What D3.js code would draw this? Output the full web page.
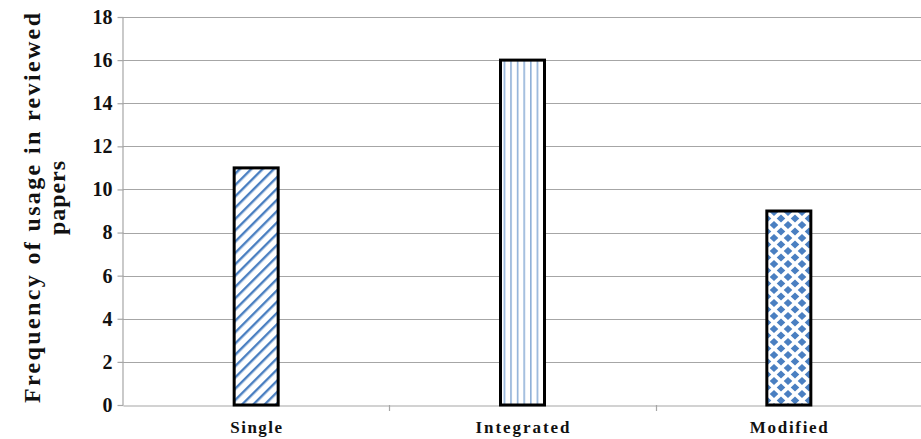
<!DOCTYPE html>
<html>
<head>
<meta charset="utf-8">
<script src="https://cdn.jsdelivr.net/npm/d3@7"></script>
<style>
  html, body { margin: 0; padding: 0; background: #fff; }
  svg { display: block; }
</style>
</head>
<body>
<svg id="chart" width="921" height="439"></svg>
<script>
// Chart data
const categories = ["Single", "Integrated", "Modified"];
const values = [11, 16, 9];
const patterns = ["diag", "vert", "diamond"];
const yTicks = [0, 2, 4, 6, 8, 10, 12, 14, 16, 18];
const yTitleLines = ["Frequency of  usage in reviewed", "papers"];

const SERIF = "'Liberation Serif', 'Times New Roman', serif";
const svg = d3.select("#chart");
const W = 921, H = 439;
const margin = { left: 123, right: -1, top: 17, bottom: 34 };

const x = d3.scaleBand().domain(categories).range([margin.left, W - margin.right]).paddingInner(0).paddingOuter(0);
const y = d3.scaleLinear().domain([0, 18]).range([H - margin.bottom, margin.top]);

const blue = "#4a7fc1";
const defs = svg.append("defs");

// diagonal hatch
const pd = defs.append("pattern").attr("id", "diag").attr("patternUnits", "userSpaceOnUse")
  .attr("width", 8).attr("height", 8).attr("patternTransform", "rotate(45)");
pd.append("rect").attr("width", 8).attr("height", 8).attr("fill", "#fff");
pd.append("rect").attr("x", 0).attr("y", 0).attr("width", 2.4).attr("height", 8).attr("fill", blue);

// vertical lines
const pv = defs.append("pattern").attr("id", "vert").attr("patternUnits", "userSpaceOnUse")
  .attr("width", 6.6).attr("height", 10).attr("x", 2);
pv.append("rect").attr("width", 6.6).attr("height", 10).attr("fill", "#fff");
pv.append("rect").attr("x", 0).attr("y", 0).attr("width", 1.6).attr("height", 10).attr("fill", "#8fb0d8");

// diamond checker: blue diamonds on offset rows
const pw = 14, ph = 13, dx = 4.3, dy = 4.0;
const dia = (cx, cy) => `M${cx},${cy - dy}L${cx + dx},${cy}L${cx},${cy + dy}L${cx - dx},${cy}Z`;
const pm = defs.append("pattern").attr("id", "diamond").attr("patternUnits", "userSpaceOnUse")
  .attr("width", pw).attr("height", ph).attr("x", 4).attr("y", 4);
pm.append("rect").attr("width", pw).attr("height", ph).attr("fill", "#fff");
pm.append("path")
  .attr("d", [dia(0, 0), dia(pw, 0), dia(0, ph), dia(pw, ph), dia(pw / 2, ph / 2)].join(""))
  .attr("fill", blue);

// gridlines
svg.append("g").selectAll("line").data(yTicks.filter(d => d > 0)).join("line")
  .attr("x1", margin.left).attr("x2", W)
  .attr("y1", d => Math.round(y(d)) + 0.5).attr("y2", d => Math.round(y(d)) + 0.5)
  .attr("stroke", "#a6a6a6").attr("stroke-width", 1.2);

// y axis
const yAxis = svg.append("g").attr("transform", `translate(${margin.left + 0.5},0)`)
  .call(d3.axisLeft(y).tickValues(yTicks).tickSize(6).tickPadding(5))
  .attr("font-family", SERIF).attr("font-weight", "bold").attr("font-size", 20);
yAxis.select(".domain").attr("stroke", "#a6a6a6").attr("stroke-width", 1.2).attr("d", `M-0.5,${y(0)}V${y(18)}`);
yAxis.selectAll(".tick line").attr("stroke", "#a6a6a6").attr("stroke-width", 1.2);
yAxis.selectAll(".tick text").attr("fill", "#111");

// x axis
const xLabelLen = { Single: 52, Integrated: 94, Modified: 78 };
const xAxis = svg.append("g").attr("transform", `translate(0,${Math.round(y(0)) + 0.5})`)
  .call(d3.axisBottom(x).tickSize(0).tickPadding(15))
  .attr("font-family", SERIF).attr("font-weight", "bold").attr("font-size", 17);
xAxis.select(".domain").attr("stroke", "#a6a6a6").attr("stroke-width", 1.2);
xAxis.selectAll(".tick text").attr("fill", "#111")
  .attr("textLength", d => xLabelLen[d]).attr("lengthAdjust", "spacing");
// category boundary ticks
svg.append("g").selectAll("line").data(categories.slice(1)).join("line")
  .attr("x1", d => Math.round(x(d)) + 0.5).attr("x2", d => Math.round(x(d)) + 0.5)
  .attr("y1", y(0)).attr("y2", y(0) + 6)
  .attr("stroke", "#a6a6a6").attr("stroke-width", 1.2);

// bars
const barW = 44;
svg.append("g").selectAll("rect").data(categories).join("rect")
  .attr("x", d => x(d) + x.bandwidth() / 2 - barW / 2)
  .attr("y", (d, i) => y(values[i]))
  .attr("width", barW)
  .attr("height", (d, i) => y(0) - y(values[i]))
  .attr("fill", (d, i) => `url(#${patterns[i]})`)
  .attr("stroke", "#000").attr("stroke-width", 3);

// y axis title, two rotated lines
const titleLen = [390, 74];
const titleCy = (y(0) + y(18)) / 2 - 3;
svg.append("g").selectAll("text").data(yTitleLines).join("text")
  .attr("transform", (d, i) => `translate(${40 + i * 25},${titleCy - i * 10}) rotate(-90)`)
  .attr("text-anchor", "middle")
  .attr("font-family", SERIF).attr("font-weight", "bold").attr("font-size", 24)
  .attr("fill", "#111")
  .attr("textLength", (d, i) => titleLen[i]).attr("lengthAdjust", "spacing")
  .text(d => d);
</script>
</body>
</html>
